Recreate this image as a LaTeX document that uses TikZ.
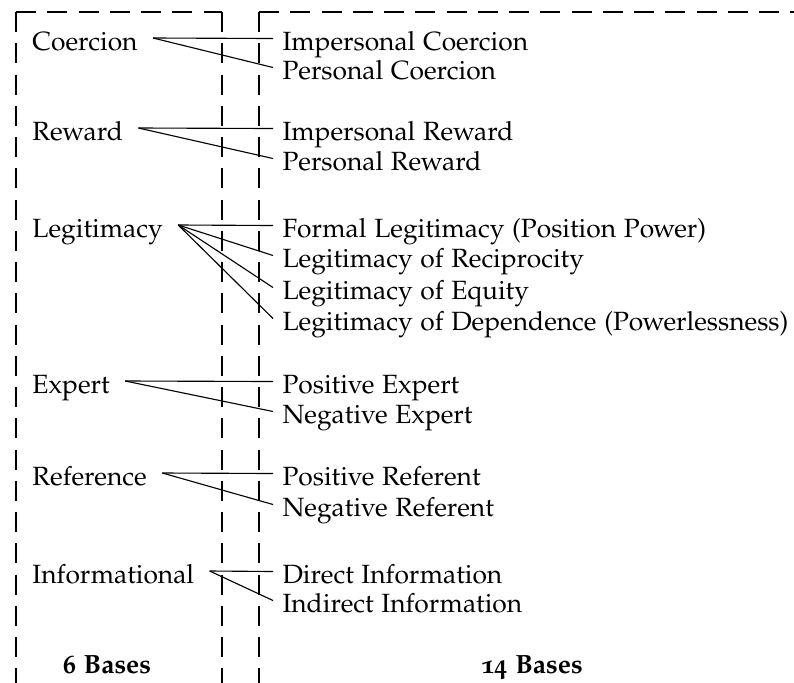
\documentclass[tikz,border=0pt]{standalone}
\usepackage[T1]{fontenc}
\usepackage[osf]{mathpazo}
\begin{document}
\begin{tikzpicture}[x=0.4pt,y=-0.4pt,
  boxline/.style={line width=0.45pt, dash pattern=on 8pt off 4.5pt},
  link/.style={line width=0.45pt},
  lab/.style={anchor=base west, inner sep=0pt, font=\fontsize{10.55}{12.5}\selectfont},
  head/.style={anchor=base, inner sep=0pt, font=\fontsize{10.55}{12.5}\selectfont\bfseries}]
\useasboundingbox (0,0) rectangle (794,682);
\begin{scope}
\clip (0,0) rectangle (794,682);
% left box
\draw[boxline] (16,12) -- (16,700);
\draw[boxline] (16,12) -- (222,12);
\draw[boxline] (222,12) -- (222,700);
% right box
\draw[boxline] (259,12) -- (259,700);
\draw[boxline] (259,12) -- (800,12);
\end{scope}

% left labels
\node[lab] (L1) at (32,50) {Coercion};
\node[lab] (L2) at (32,140) {Reward};
\node[lab] (L3) at (32,237) {Legitimacy};
\node[lab] (L4) at (32,393) {Expert};
\node[lab] (L5) at (32,485) {Reference};
\node[lab] (L6) at (32,583) {Informational};

% right labels
\node[lab] (R1) at (282,50) {Impersonal Coercion};
\node[lab] (R2) at (282,79) {Personal Coercion};
\node[lab] (R3) at (282,140) {Impersonal Reward};
\node[lab] (R4) at (282,170) {Personal Reward};
\node[lab] (R5) at (282,237) {Formal Legitimacy (Position Power)};
\node[lab] (R6) at (282,267) {Legitimacy of Reciprocity};
\node[lab] (R7) at (282,299) {Legitimacy of Equity};
\node[lab] (R8) at (282,330) {Legitimacy of Dependence (Powerlessness)};
\node[lab] (R9) at (282,393) {Positive Expert};
\node[lab] (R10) at (282,423) {Negative Expert};
\node[lab] (R11) at (282,485) {Positive Referent};
\node[lab] (R12) at (282,516) {Negative Referent};
\node[lab] (R13) at (282,583) {Direct Information};
\node[lab] (R14) at (282,612) {Indirect Information};

\node[head] (H1) at (107,673) {6 Bases};
\node[head] (H2) at (532,673) {14 Bases};

\foreach \l/\r in {L1/R1,L1/R2,L2/R3,L2/R4,L3/R5,L3/R6,L3/R7,L3/R8,L4/R9,L4/R10,L5/R11,L5/R12,L6/R13,L6/R14}{
  \draw[link] ([shift={(15,-12)}]\l.base east) -- ([shift={(-9,-11.5)}]\r.base west);
}
\end{tikzpicture}
\end{document}
